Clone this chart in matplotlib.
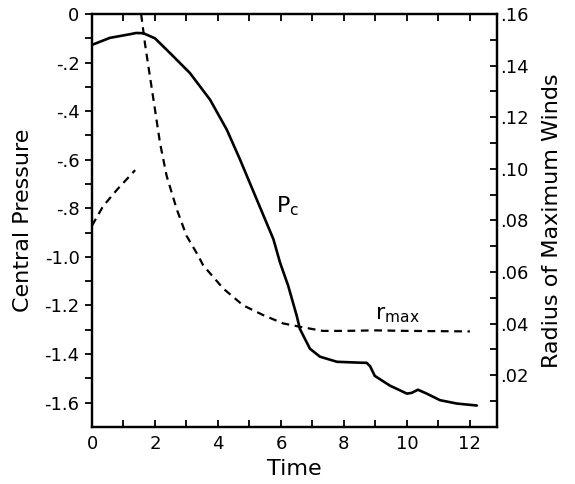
import numpy as np
import matplotlib
matplotlib.use("Agg")
import matplotlib.pyplot as plt
from matplotlib.ticker import FixedLocator

# --- donnees ---
# pression centrale (axe gauche)
t_pc = [0, 0.57, 1.0, 1.21, 1.4, 1.63, 2.0, 2.48, 3.11, 3.75, 4.28, 4.7,
        5.23, 5.76, 5.97, 6.23, 6.5, 6.6, 6.76, 6.92, 7.24, 7.78, 8.6, 8.72,
        8.83, 8.98, 9.46, 10.0, 10.15, 10.35, 10.63, 11.05, 11.59, 12.22]
p_c = [-0.127, -0.098, -0.088, -0.083, -0.078, -0.079, -0.10, -0.161, -0.243,
       -0.353, -0.476, -0.599, -0.763, -0.927, -1.023, -1.119, -1.242, -1.296,
       -1.337, -1.378, -1.411, -1.432, -1.436, -1.436, -1.45, -1.49, -1.53,
       -1.563, -1.56, -1.547, -1.563, -1.59, -1.604, -1.612]

# rayon des vents max (axe droit), deux morceaux
t_r1 = [0, 0.35, 0.8, 1.37]
r_1 = [0.078, 0.0855, 0.092, 0.0995]
t_r2 = [1.56, 1.68, 1.84, 2.0, 2.16, 2.37, 2.69, 3.0, 3.37, 3.53, 4.17, 4.8,
        5.44, 6.07, 6.6, 7.33, 8.0, 9.0, 10.0, 11.0, 12.0]
r_2 = [0.16, 0.1487, 0.1358, 0.123, 0.110, 0.0973, 0.0844, 0.0741, 0.0664,
       0.0626, 0.0536, 0.0471, 0.0433, 0.0401, 0.0388, 0.0372, 0.0372, 0.0374,
       0.0372, 0.0371, 0.037]

left_ticks = [0, -0.2, -0.4, -0.6, -0.8, -1.0, -1.2, -1.4, -1.6]
left_labels = ["0", "-.2", "-.4", "-.6", "-.8", "-1.0", "-1.2", "-1.4", "-1.6"]
right_ticks = [0.02, 0.04, 0.06, 0.08, 0.10, 0.12, 0.14, 0.16]
right_labels = [".02", ".04", ".06", ".08", ".10", ".12", ".14", ".16"]

plt.rcParams['font.family'] = ['DejaVu Sans']
plt.rcParams['mathtext.default'] = 'regular'

fig = plt.figure(figsize=(5.75, 4.84), dpi=100)
ax = fig.add_axes([0.16, 0.118, 0.7043, 0.853])
ax2 = ax.twinx()

ax.plot(t_pc, p_c, color='black', lw=1.9, solid_joinstyle='round', solid_capstyle='round')
ax2.plot(t_r1, r_1, color='black', lw=1.6, dashes=(3.5, 2.5))
ax2.plot(t_r2, r_2, color='black', lw=1.6, dashes=(3.5, 2.5))

ax.set_xlim(0, 12.86)
ax.set_ylim(-1.7, 0)
ax2.set_ylim(0, 0.16)

# graduations
ax.set_xticks([0, 2, 4, 6, 8, 10, 12])
ax.xaxis.set_minor_locator(FixedLocator([1, 3, 5, 7, 9, 11]))
ax.set_yticks(left_ticks)
ax.set_yticklabels(left_labels)
ax.yaxis.set_minor_locator(FixedLocator([-0.1, -0.3, -0.5, -0.7, -0.9, -1.1, -1.3, -1.5]))
ax2.set_yticks(right_ticks)
ax2.set_yticklabels(right_labels)
ax2.yaxis.set_minor_locator(FixedLocator([0.01, 0.03, 0.05, 0.07, 0.09, 0.11, 0.13, 0.15]))

ax.tick_params(axis='x', which='both', direction='in', top=True, length=5, width=1.3, labelsize=13, pad=6)
ax.tick_params(axis='y', which='both', direction='out', length=5, width=1.3, labelsize=13, pad=4)
ax2.tick_params(axis='y', which='both', direction='in', length=5, width=1.3, labelsize=13, pad=2)

for a in (ax, ax2):
    for s in a.spines.values():
        s.set_linewidth(1.6)

ax.set_xlabel("Time", fontsize=16, labelpad=4)
ax.set_ylabel("Central Pressure", fontsize=16, labelpad=8)
ax2.set_ylabel("Radius of Maximum Winds", fontsize=16, labelpad=10)

ax.text(5.85, -0.79, r'$P_c$', fontsize=16, ha='left', va='center')
ax2.text(9.0, 0.0435, r'$r_{max}$', fontsize=16, ha='left', va='center')

fig.savefig("out.png", dpi=100)
